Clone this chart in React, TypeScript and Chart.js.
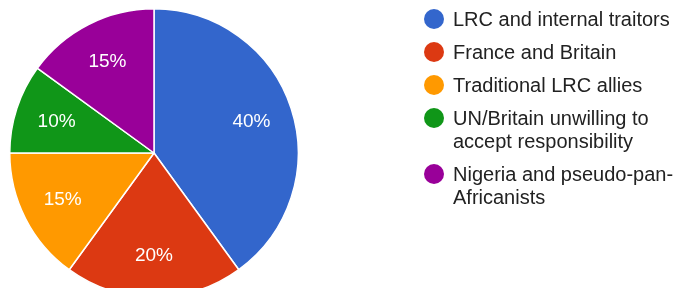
import React, { useEffect, useRef } from "react";
import { Chart, registerables } from "chart.js";

Chart.register(...registerables);

const categories = [
  "LRC and internal traitors",
  "France and Britain",
  "Traditional LRC allies",
  "UN/Britain unwilling to accept responsibility",
  "Nigeria and pseudo-pan-Africanists",
];
const values = [40, 20, 15, 10, 15];
const colors = ["#3366CC", "#DC3912", "#FF9900", "#109618", "#990099"];

const FONT = '"Liberation Sans", Arial, sans-serif';

function wrap(ctx: CanvasRenderingContext2D, text: string, maxW: number): string[] {
  const tokens = text.match(/[^\s-]+-?\s*/g) || [text];
  const lines: string[] = [];
  let cur = "";
  for (const t of tokens) {
    const test = cur + t;
    if (cur && ctx.measureText(test.trimEnd()).width > maxW) {
      lines.push(cur.trimEnd());
      cur = t;
    } else {
      cur = test;
    }
  }
  if (cur) lines.push(cur.trimEnd());
  return lines;
}

const sliceLabels = {
  id: "sliceLabels",
  afterDatasetsDraw(chart: any) {
    const ctx = chart.ctx as CanvasRenderingContext2D;
    const meta = chart.getDatasetMeta(0);
    const data = chart.data.datasets[0].data as number[];
    const total = data.reduce((a, b) => a + b, 0);
    ctx.save();
    ctx.font = `19px ${FONT}`;
    ctx.fillStyle = "#ffffff";
    ctx.textAlign = "center";
    ctx.textBaseline = "middle";
    meta.data.forEach((arc: any, i: number) => {
      const p = arc.getProps(["x", "y", "startAngle", "endAngle", "outerRadius"], true);
      const mid = (p.startAngle + p.endAngle) / 2;
      const d = p.outerRadius * 0.71;
      const pct = Math.round((data[i] / total) * 100) + "%";
      ctx.fillText(pct, p.x + Math.cos(mid) * d, p.y + Math.sin(mid) * d);
    });
    ctx.restore();
  },
};

const sideLegend = {
  id: "sideLegend",
  afterDraw(chart: any) {
    const ctx = chart.ctx as CanvasRenderingContext2D;
    const labels = chart.data.labels as string[];
    const bg = chart.data.datasets[0].backgroundColor as string[];
    const cx = 434;
    const tx = 453;
    const lineH = 23;
    const gap = 10;
    let y = 19;
    ctx.save();
    ctx.font = `20px ${FONT}`;
    ctx.textBaseline = "middle";
    ctx.textAlign = "left";
    labels.forEach((lab, i) => {
      ctx.beginPath();
      ctx.arc(cx, y, 10, 0, Math.PI * 2);
      ctx.fillStyle = bg[i];
      ctx.fill();
      const lines = wrap(ctx, lab, chart.width - tx - 1);
      ctx.fillStyle = "#222222";
      lines.forEach((ln, j) => ctx.fillText(ln, tx, y + 1 + j * lineH));
      y += lines.length * lineH + gap;
    });
    ctx.restore();
  },
};

export default function App() {
  const ref = useRef<HTMLCanvasElement | null>(null);
  useEffect(() => {
    if (!ref.current) return;
    const chart = new Chart(ref.current, {
      type: "pie",
      data: {
        labels: categories,
        datasets: [
          {
            data: values,
            backgroundColor: colors,
            borderColor: "#ffffff",
            borderWidth: 1.5,
          },
        ],
      },
      options: {
        animation: false,
        responsive: false,
        devicePixelRatio: 1,
        layout: { padding: { left: 9, right: 379, top: 8, bottom: 8 } },
        plugins: {
          legend: { display: false },
          tooltip: { enabled: false },
        },
      },
      plugins: [sliceLabels, sideLegend],
    });
    return () => chart.destroy();
  }, []);
  return (
    <div style={{ position: "absolute", left: 0, top: 0, width: 678, height: 306, background: "#fff" }}>
      <canvas ref={ref} width={678} height={306} style={{ display: "block" }} />
    </div>
  );
}
